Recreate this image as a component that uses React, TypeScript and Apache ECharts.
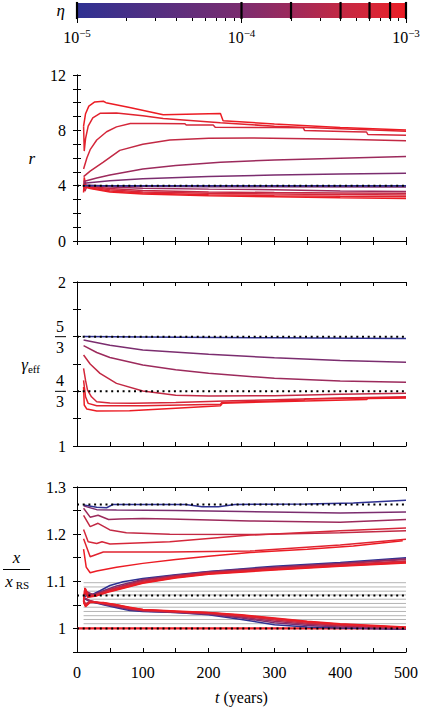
import React, { useEffect, useRef } from "react";
import * as echarts from "echarts";

// ---------- data ----------
const ETA = [1e-5, 1e-4, 2e-4, 4e-4, 6e-4, 8e-4, 1e-3];
const ETA_RANGE = [1e-5, 1e-3];
const ETA_MAJOR = [1e-5, 1e-4, 1e-3];
const ETA_MINOR = [2e-5, 3e-5, 4e-5, 5e-5, 6e-5, 7e-5, 8e-5, 9e-5, 2e-4, 3e-4, 4e-4, 5e-4, 6e-4, 7e-4, 8e-4, 9e-4];

const T_MIN = 0;
const T_MAX = 500;

// compression ratio r, first set (one curve per eta)
const R_A = [
  [[10, 4.0], [100, 4.0], [300, 4.0], [500, 4.0]],
  [[10, 4.17], [50, 4.35], [100, 4.5], [200, 4.67], [300, 4.77], [400, 4.85], [500, 4.9]],
  [[10, 4.3], [30, 4.55], [50, 4.77], [100, 5.2], [150, 5.45], [218, 5.7], [300, 5.86], [400, 5.98], [500, 6.1]],
  [[10, 4.65], [20, 5.05], [40, 5.7], [65, 6.55], [100, 7.0], [141, 7.3], [200, 7.42], [263, 7.45], [350, 7.4], [420, 7.33], [500, 7.25]],
  [[10, 5.2], [15, 6.0], [20, 6.6], [30, 7.3], [45, 7.9], [60, 8.25], [81, 8.5], [120, 8.5], [164, 8.48], [166, 8.38], [207, 8.38], [210, 8.22], [300, 8.2], [344, 8.18], [346, 7.98], [420, 7.9], [440, 7.88], [442, 7.7], [500, 7.65]],
  [[10, 8.3], [11, 6.5], [13, 7.4], [17, 8.3], [24, 8.9], [35, 9.23], [60, 9.25], [100, 9.05], [131, 8.85], [218, 8.55], [300, 8.3], [400, 8.12], [500, 7.93]],
  [[10, 8.3], [13, 9.2], [18, 9.75], [27, 10.05], [40, 10.1], [44, 10.0], [80, 9.65], [131, 9.12], [218, 9.22], [222, 8.7], [300, 8.45], [400, 8.2], [500, 8.02]],
];
// compression ratio r, second set
const R_B = [
  [[10, 4.0], [100, 3.99], [300, 3.98], [500, 3.97]],
  [[10, 4.05], [50, 3.98], [100, 3.95], [200, 3.93], [300, 3.92], [500, 3.9]],
  [[10, 4.0], [50, 3.9], [100, 3.82], [200, 3.75], [300, 3.7], [400, 3.62], [500, 3.57]],
  [[10, 4.0], [12, 3.6], [15, 3.95], [50, 3.8], [100, 3.65], [200, 3.55], [300, 3.5], [400, 3.47], [500, 3.45]],
  [[10, 3.95], [50, 3.7], [100, 3.55], [200, 3.45], [300, 3.4], [400, 3.36], [500, 3.33]],
  [[10, 3.9], [50, 3.62], [100, 3.47], [200, 3.35], [300, 3.28], [400, 3.23], [500, 3.2]],
  [[10, 3.5], [11, 4.6], [14, 3.9], [20, 3.8], [50, 3.55], [100, 3.4], [200, 3.28], [300, 3.2], [400, 3.12], [500, 3.08]],
];
const R_REF = [4];

// effective adiabatic index
const GAMMA = [
  [[10, 1.667], [100, 1.665], [300, 1.66], [500, 1.655]],
  [[10, 1.646], [50, 1.615], [100, 1.585], [200, 1.56], [300, 1.538], [400, 1.522], [500, 1.51]],
  [[10, 1.612], [30, 1.57], [50, 1.54], [100, 1.494], [150, 1.465], [200, 1.443], [300, 1.413], [400, 1.396], [500, 1.388]],
  [[10, 1.555], [20, 1.5], [35, 1.443], [60, 1.382], [100, 1.335], [150, 1.31], [200, 1.305], [300, 1.307], [400, 1.315], [500, 1.321]],
  [[10, 1.474], [13, 1.4], [16, 1.341], [22, 1.3], [30, 1.27], [50, 1.262], [85, 1.26], [150, 1.265], [237, 1.276], [300, 1.282], [400, 1.292], [500, 1.3]],
  [[10, 1.4], [13, 1.3], [17, 1.26], [30, 1.245], [100, 1.245], [218, 1.255], [220, 1.265], [300, 1.275], [345, 1.28], [347, 1.287], [400, 1.29], [500, 1.295]],
  [[10, 1.36], [11, 1.25], [15, 1.225], [30, 1.213], [80, 1.215], [150, 1.23], [218, 1.245], [221, 1.26], [300, 1.27], [440, 1.283], [442, 1.29], [500, 1.292]],
];
const GAMMA_REF = [5 / 3, 4 / 3];

// x / x_RS, first set
const X_A = [
  [[10, 1.262], [30, 1.257], [45, 1.256], [55, 1.263], [100, 1.263], [165, 1.263], [190, 1.258], [215, 1.258], [240, 1.263], [350, 1.264], [420, 1.266], [500, 1.272]],
  [[10, 1.26], [30, 1.252], [60, 1.251], [150, 1.25], [250, 1.248], [350, 1.246], [400, 1.245], [500, 1.247]],
  [[10, 1.255], [20, 1.236], [32, 1.24], [48, 1.231], [65, 1.232], [100, 1.233], [141, 1.232], [263, 1.228], [400, 1.225], [500, 1.231]],
  [[10, 1.24], [20, 1.216], [32, 1.223], [50, 1.209], [75, 1.203], [141, 1.2], [263, 1.199], [400, 1.203], [500, 1.207]],
  [[10, 1.21], [17, 1.184], [30, 1.18], [38, 1.184], [50, 1.179], [141, 1.184], [263, 1.198], [400, 1.207], [500, 1.213]],
  [[10, 1.19], [20, 1.152], [40, 1.162], [141, 1.162], [263, 1.164], [400, 1.177], [500, 1.189]],
  [[10, 1.168], [14, 1.13], [20, 1.118], [30, 1.122], [60, 1.13], [100, 1.138], [150, 1.146], [200, 1.153], [263, 1.161], [350, 1.168], [420, 1.175], [495, 1.186]],
];
// x / x_RS, second set, upper branch
const X_B_UP = [
  [[10, 1.066], [15, 1.07], [25, 1.073], [35, 1.08], [50, 1.091], [70, 1.099], [100, 1.106], [150, 1.114], [200, 1.121], [300, 1.132], [400, 1.14], [500, 1.15]],
  [[10, 1.068], [15, 1.075], [25, 1.072], [40, 1.08], [60, 1.09], [100, 1.104], [150, 1.113], [200, 1.12], [300, 1.13], [400, 1.138], [500, 1.148]],
  [[10, 1.07], [15, 1.078], [25, 1.071], [40, 1.078], [60, 1.087], [100, 1.102], [150, 1.112], [200, 1.119], [300, 1.129], [400, 1.137], [500, 1.146]],
  [[10, 1.062], [13, 1.082], [18, 1.07], [30, 1.072], [50, 1.082], [100, 1.1], [150, 1.11], [200, 1.118], [300, 1.127], [400, 1.135], [500, 1.143]],
  [[10, 1.06], [13, 1.084], [18, 1.068], [30, 1.071], [50, 1.08], [100, 1.098], [150, 1.109], [200, 1.117], [300, 1.126], [400, 1.134], [500, 1.142]],
  [[10, 1.058], [12, 1.085], [17, 1.067], [30, 1.07], [50, 1.079], [100, 1.097], [150, 1.108], [200, 1.116], [300, 1.125], [400, 1.133], [500, 1.14]],
  [[10, 1.056], [12, 1.086], [16, 1.066], [30, 1.069], [50, 1.078], [100, 1.096], [150, 1.107], [200, 1.115], [300, 1.124], [400, 1.132], [500, 1.139]],
];
// x / x_RS, second set, lower branch
const X_B_LOW = [
  [[10, 1.064], [20, 1.057], [40, 1.05], [60, 1.044], [80, 1.038], [100, 1.036], [150, 1.034], [200, 1.029], [250, 1.019], [300, 1.008], [350, 1.003], [400, 1.001], [500, 0.998]],
  [[10, 1.065], [20, 1.058], [40, 1.051], [60, 1.046], [80, 1.04], [100, 1.037], [150, 1.034], [200, 1.03], [250, 1.022], [300, 1.012], [350, 1.006], [400, 1.003], [500, 0.999]],
  [[10, 1.066], [20, 1.059], [40, 1.052], [60, 1.047], [80, 1.041], [100, 1.038], [150, 1.035], [200, 1.031], [250, 1.024], [300, 1.015], [350, 1.009], [400, 1.005], [500, 1.0]],
  [[10, 1.06], [13, 1.052], [20, 1.058], [40, 1.053], [60, 1.048], [80, 1.042], [100, 1.038], [150, 1.035], [200, 1.032], [250, 1.026], [300, 1.018], [350, 1.011], [400, 1.007], [500, 1.001]],
  [[10, 1.058], [13, 1.05], [20, 1.057], [40, 1.054], [60, 1.049], [80, 1.043], [100, 1.039], [150, 1.036], [200, 1.033], [250, 1.027], [300, 1.02], [350, 1.013], [400, 1.008], [500, 1.002]],
  [[10, 1.056], [13, 1.048], [20, 1.056], [40, 1.054], [60, 1.05], [80, 1.044], [100, 1.04], [150, 1.036], [200, 1.033], [250, 1.028], [300, 1.021], [350, 1.014], [400, 1.009], [500, 1.002]],
  [[10, 1.055], [13, 1.046], [20, 1.055], [40, 1.055], [60, 1.05], [80, 1.045], [100, 1.04], [150, 1.037], [200, 1.034], [250, 1.029], [300, 1.022], [350, 1.015], [400, 1.01], [500, 1.003]],
];
const X_REF = [1.263, 1.07, 1.0];
const X_RS_LEVEL = 1.0;
const X_GRAY = [1.01, 1.019, 1.027, 1.036, 1.045, 1.053, 1.062, 1.071, 1.079, 1.088, 1.097];

// ---------- style ----------
const FONT = "Liberation Serif";
const STOPS: [number, number[]][] = [
  [0, [46, 49, 146]],
  [0.5, [123, 45, 111]],
  [0.65, [156, 42, 92]],
  [0.8, [194, 41, 68]],
  [0.89, [213, 39, 58]],
  [0.95, [225, 35, 47]],
  [1, [236, 28, 36]],
];
const pos = (e: number) => (Math.log10(e) - Math.log10(ETA_RANGE[0])) / (Math.log10(ETA_RANGE[1]) - Math.log10(ETA_RANGE[0]));
function colorAt(p: number) {
  for (let i = 1; i < STOPS.length; i++) {
    if (p <= STOPS[i][0] + 1e-9) {
      const [p0, c0] = STOPS[i - 1];
      const [p1, c1] = STOPS[i];
      const f = (p - p0) / (p1 - p0);
      const c = c0.map((v, k) => Math.round(v + (c1[k] - v) * f));
      return `rgb(${c[0]},${c[1]},${c[2]})`;
    }
  }
  return "rgb(236,28,36)";
}
const ETA_COLORS = ETA.map((e) => colorAt(pos(e)));

const PANELS = [
  { top: 75, height: 166 },
  { top: 282, height: 164 },
  { top: 487, height: 165 },
];
const LEFT = 77;
const WIDTH = 329;

function buildOption() {
  const txt = { color: "#000", fontFamily: FONT, fontSize: 16 };
  const gridBase = { containLabel: false, outerBoundsMode: "none" };
  const grids: any[] = [{ ...gridBase, left: LEFT, width: WIDTH, top: 3, height: 15 }];
  PANELS.forEach((p) => grids.push({ ...gridBase, left: LEFT, width: WIDTH, top: p.top, height: p.height }));

  const xAxes: any[] = [
    {
      gridIndex: 0, type: "log", logBase: 10, min: ETA_RANGE[0], max: ETA_RANGE[1], position: "bottom",
      axisLine: { show: false }, splitLine: { show: false },
      axisTick: { show: true, inside: false, length: 5, customValues: ETA_MAJOR, lineStyle: { color: "#000", width: 1 } },
      axisLabel: {
        customValues: ETA_MAJOR, margin: 9, ...txt,
        formatter: (v: number) => `{b|10}{s|−${Math.round(-Math.log10(v))}}`,
        rich: {
          b: { ...txt, lineHeight: 20, verticalAlign: "middle" },
          s: { ...txt, fontSize: 11, lineHeight: 12, verticalAlign: "top" },
        },
      },
    },
    {
      gridIndex: 0, type: "log", logBase: 10, min: ETA_RANGE[0], max: ETA_RANGE[1], position: "bottom",
      axisLine: { show: false }, splitLine: { show: false },
      axisTick: { show: true, inside: false, length: 3, customValues: ETA_MINOR, lineStyle: { color: "#000", width: 1 } },
      axisLabel: { show: false },
    },
  ];
  const axisBase = (grid: number) => ({
    gridIndex: grid, type: "value", min: T_MIN, max: T_MAX, interval: 50,
    axisLine: { lineStyle: { color: "#000", width: 1 } },
    axisTick: { inside: true, length: 4, lineStyle: { color: "#000", width: 1 } },
    splitLine: { show: false },
  });
  PANELS.forEach((_, i) => {
    const last = i === PANELS.length - 1;
    xAxes.push({
      ...axisBase(i + 1), position: "bottom",
      axisLabel: { show: last, margin: 12, ...txt, formatter: (v: number) => (v % 100 === 0 ? String(v) : "") },
      ...(last
        ? {
            name: "{i|t} (years)", nameLocation: "middle", nameGap: 37,
            nameTextStyle: { ...txt, rich: { i: { ...txt, fontStyle: "italic" } } },
          }
        : {}),
    });
  });
  PANELS.forEach((_, i) => {
    xAxes.push({ ...axisBase(i + 1), position: "top", axisLabel: { show: false } });
  });

  const yAxes: any[] = [
    {
      gridIndex: 0, type: "value", min: 0, max: 1,
      axisLine: { show: false }, axisTick: { show: false }, axisLabel: { show: false }, splitLine: { show: false },
      name: "η", nameLocation: "middle", nameRotate: 0, nameGap: 12,
      nameTextStyle: { ...txt, fontSize: 17, fontStyle: "italic" },
    },
  ];
  const yBase = (grid: number, min: number, max: number, interval: number) => ({
    gridIndex: grid, type: "value", min, max, interval,
    axisLine: { lineStyle: { color: "#000", width: 1 } },
    axisTick: { inside: true, length: 4, lineStyle: { color: "#000", width: 1 } },
    splitLine: { show: false },
  });
  const frac = (n: number, d: number) => `{n|${n}}\n{bar| }\n{n|${d}}`;
  const yDefs = [
    {
      min: 0, max: 12, interval: 1,
      label: { formatter: (v: number) => (v % 4 === 0 ? String(v) : "") },
      name: "r", nameGap: 42, nameStyle: { ...txt, fontSize: 17, fontStyle: "italic" },
    },
    {
      min: 1, max: 2, interval: 1 / 6,
      label: {
        formatter: (v: number) => {
          const k = Math.round(v * 6);
          if (Math.abs(v * 6 - k) > 1e-3) return "";
          if (k === 6) return "1";
          if (k === 12) return "2";
          if (k === 10) return frac(5, 3);
          if (k === 8) return frac(4, 3);
          return "";
        },
        rich: {
          n: { ...txt, width: 12, align: "center", lineHeight: 15 },
          bar: { width: 11, height: 1, lineHeight: 6, fontSize: 1, backgroundColor: "#000" },
        },
      },
      name: "{g|γ}{s|eff}", nameGap: 37,
      nameStyle: {
        ...txt,
        rich: {
          g: { ...txt, fontSize: 17, fontStyle: "italic", lineHeight: 20 },
          s: { ...txt, fontSize: 11, lineHeight: 12, verticalAlign: "bottom" },
        },
      },
    },
    {
      min: 0.95, max: 1.3, interval: 0.05,
      label: {
        formatter: (v: number) => {
          const k = Math.round(v * 10);
          if (Math.abs(v * 10 - k) > 1e-3) return "";
          return k === 10 ? "1" : (k / 10).toFixed(1);
        },
      },
      name: "{n|x}\n{bar| }\n{xn|x}{s|RS}", nameGap: 47,
      nameStyle: {
        ...txt,
        rich: {
          n: { ...txt, fontSize: 17, fontStyle: "italic", width: 27, align: "center", lineHeight: 18 },
          bar: { width: 27, height: 1, lineHeight: 6, fontSize: 1, backgroundColor: "#000" },
          xn: { ...txt, fontSize: 17, fontStyle: "italic", width: 12, align: "right", lineHeight: 18 },
          s: { ...txt, fontSize: 11, width: 15, align: "left", lineHeight: 12, verticalAlign: "bottom" },
        },
      },
    },
  ];
  yDefs.forEach((d, i) => {
    yAxes.push({
      ...yBase(i + 1, d.min, d.max, d.interval), position: "left",
      axisLabel: { margin: 11, ...txt, ...d.label },
      name: d.name, nameLocation: "middle", nameRotate: 0, nameGap: d.nameGap, nameTextStyle: d.nameStyle,
    });
  });
  yDefs.forEach((d, i) => {
    yAxes.push({ ...yBase(i + 1, d.min, d.max, d.interval), position: "right", axisLabel: { show: false } });
  });

  const series: any[] = [];
  // colour bar: filled area over the eta range
  series.push({
    type: "line", xAxisIndex: 0, yAxisIndex: 0, silent: true, symbol: "none",
    data: [[ETA_RANGE[0], 1], [ETA_RANGE[1], 1]],
    lineStyle: { width: 0 },
    areaStyle: {
      origin: "start", opacity: 1,
      color: new echarts.graphic.LinearGradient(0, 0, 1, 0,
        STOPS.map(([p, c]) => ({ offset: p, color: `rgb(${c[0]},${c[1]},${c[2]})` }))),
    },
    z: 2,
  });
  // black marks at the simulated eta values
  series.push({
    type: "custom", xAxisIndex: 0, yAxisIndex: 0, silent: true, z: 5, clip: false,
    data: ETA.map((e) => [e, -0.07, 1.07]),
    encode: { x: 0, y: [1, 2] },
    renderItem: (_p: any, api: any) => {
      const a = api.coord([api.value(0), api.value(2)]);
      const b = api.coord([api.value(0), api.value(1)]);
      return {
        type: "line",
        shape: { x1: a[0], y1: a[1], x2: b[0], y2: b[1] },
        style: { stroke: "#000", lineWidth: 2.2, fill: null },
      };
    },
  });

  const curve = (data: number[][], color: string, xi: number, yi: number, w = 1.5, z = 2) => ({
    type: "line", xAxisIndex: xi, yAxisIndex: yi, data, showSymbol: false, symbol: "none",
    lineStyle: { color, width: w }, z, silent: true,
  });
  const ref = (v: number, xi: number, yi: number, from = T_MIN) =>
    ({
      type: "line", xAxisIndex: xi, yAxisIndex: yi, data: [[from, v], [T_MAX, v]], symbol: "none",
      lineStyle: { color: "#000", width: 2, type: [2, 3.7] }, z: 6, silent: true,
    });

  // panel 1
  R_B.forEach((d, i) => series.push(curve(d, ETA_COLORS[i], 2, 1)));
  R_A.forEach((d, i) => series.push(curve(d, ETA_COLORS[i], 2, 1)));
  R_REF.forEach((v) => series.push(ref(v, 2, 1)));
  // panel 2
  GAMMA.forEach((d, i) => series.push(curve(d, ETA_COLORS[i], 3, 2)));
  GAMMA_REF.forEach((v) => series.push(ref(v, 3, 2)));
  // panel 3
  X_GRAY.forEach((v) =>
    series.push({
      type: "line", xAxisIndex: 4, yAxisIndex: 3, data: [[10, v], [T_MAX, v]], symbol: "none",
      lineStyle: { color: "#b4b4b4", width: 1 }, z: 1, silent: true,
    })
  );
  series.push(curve([[T_MIN, X_RS_LEVEL], [T_MAX, X_RS_LEVEL]], ETA_COLORS[6], 4, 3, 2.2));
  X_B_LOW.forEach((d, i) => series.push(curve(d, ETA_COLORS[i], 4, 3)));
  X_B_UP.forEach((d, i) => series.push(curve(d, ETA_COLORS[i], 4, 3)));
  X_A.forEach((d, i) => series.push(curve(d, ETA_COLORS[i], 4, 3)));
  X_REF.forEach((v) => series.push(ref(v, 4, 3)));

  return {
    animation: false,
    backgroundColor: "#fff",
    grid: grids,
    xAxis: xAxes,
    yAxis: yAxes,
    series,
  };
}

export default function App() {
  const el = useRef<HTMLDivElement>(null);
  useEffect(() => {
    if (!el.current) return;
    const chart = echarts.init(el.current, null, { renderer: "svg" });
    chart.setOption(buildOption() as any);
    return () => chart.dispose();
  }, []);
  return (
    <div
      ref={el}
      style={{ position: "fixed", left: 0, top: 0, width: 425, height: 707, background: "#fff" }}
    />
  );
}
